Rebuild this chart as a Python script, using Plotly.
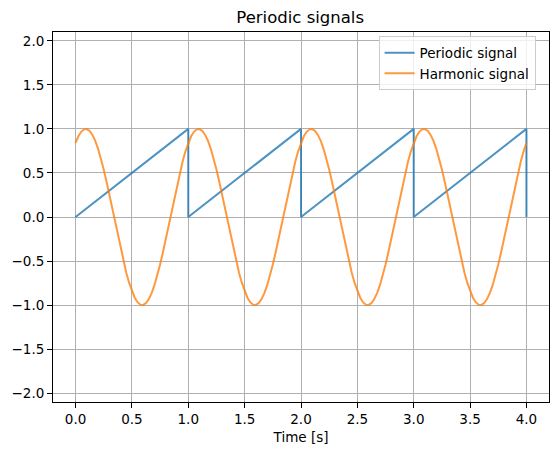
import plotly.graph_objects as go

# Periodic (sawtooth) signal: corner points
saw_t = [0.0, 1.0, 1.0, 2.0, 2.0, 3.0, 3.0, 4.0, 4.0]
saw_y = [0.0, 1.0, 0.0, 1.0, 0.0, 1.0, 0.0, 1.0, 0.0]

harm_t = [round(0.025 * i, 3) for i in range(161)]
half_period = [0.842, 0.916, 0.967, 0.995, 0.998, 0.977, 0.932, 0.864, 0.774, 0.666,
               0.540, 0.401, 0.254, 0.099, -0.058, -0.213, -0.363, -0.505, -0.633, -0.746]
one_period = half_period + [-v for v in half_period]
harm_y = one_period * 4 + [0.842]

x_ticks = [0.0, 0.5, 1.0, 1.5, 2.0, 2.5, 3.0, 3.5, 4.0]
y_ticks = [-2.0, -1.5, -1.0, -0.5, 0.0, 0.5, 1.0, 1.5, 2.0]

fig = go.Figure()
fig.add_trace(go.Scatter(x=saw_t, y=saw_y, mode="lines", name="Periodic signal",
                         line=dict(color="rgba(31,119,180,0.8)", width=2)))
fig.add_trace(go.Scatter(x=harm_t, y=harm_y, mode="lines", name="Harmonic signal",
                         line=dict(color="rgba(255,127,14,0.8)", width=2)))

axis_common = dict(showgrid=True, gridcolor="#b0b0b0", gridwidth=1, zeroline=False,
                   showline=True, linecolor="black", linewidth=1, mirror=True,
                   ticks="outside", ticklen=5, tickwidth=1, tickcolor="black",
                   automargin=False,
                   tickfont=dict(family="DejaVu Sans", size=13.5, color="black"))

fig.update_layout(
    width=559, height=455,
    margin=dict(l=53, r=10, t=32, b=53, autoexpand=False),
    paper_bgcolor="white", plot_bgcolor="white",
    title=dict(text="Periodic signals", x=0.537, xanchor="center", y=0.963, yanchor="middle",
               automargin=False,
               font=dict(family="DejaVu Sans", size=16.5, color="black")),
    xaxis=dict(range=[-0.2, 4.2], tickvals=x_ticks, ticktext=[f"{v:.1f}" for v in x_ticks],
               title=dict(text="Time [s]", font=dict(family="DejaVu Sans", size=13.5, color="black"), standoff=6),
               **axis_common),
    yaxis=dict(range=[-2.1, 2.1], tickvals=y_ticks,
               ticktext=[f"{v:.1f}".replace("-", "\u2212") for v in y_ticks],
               **axis_common),
    legend=dict(x=0.973, y=0.988, xanchor="right", yanchor="top",
                bgcolor="rgba(255,255,255,0.8)", bordercolor="#cccccc", borderwidth=1,
                font=dict(family="DejaVu Sans", size=13.5, color="black"),
                tracegroupgap=0),
    showlegend=True,
)

fig.write_html("out.html", config={"displayModeBar": False},
               post_script="document.body.style.margin='0';document.body.style.padding='0';")
